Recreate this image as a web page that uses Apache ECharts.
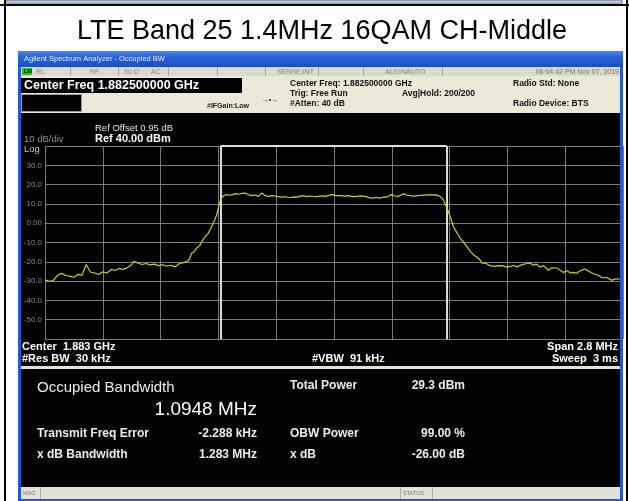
<!DOCTYPE html>
<html>
<head>
<meta charset="utf-8">
<title>LTE Band 25 1.4MHz 16QAM CH-Middle</title>
<script src="https://cdn.jsdelivr.net/npm/echarts@6/dist/echarts.min.js"></script>
<style>
  html, body { margin: 0; padding: 0; background: #fff; }
  #chart { width: 629px; height: 501px; }
</style>
</head>
<body>
<div id="chart"></div>
<script>
// trace: offset from centre freq (kHz) and level (dBm)
var freqKHz = [
  -1400, -1380, -1360, -1340, -1320, -1300, -1280, -1260, -1240, -1220, -1210, -1200, -1190, -1180,
  -1160, -1140, -1120, -1100, -1080, -1060, -1040, -1020, -1000, -980, -970, -950, -930, -910,
  -890, -870, -850, -830, -810, -790, -770, -750, -730, -710, -700, -690, -680, -665, -650, -640,
  -625, -610, -595, -580, -568, -557, -548, -535,
  -520, -505, -488, -475, -464, -450, -431, -415, -399, -385, -367, -350, -335, -318, -300, -286,
  -270, -253, -235, -213, -195, -181, -165, -149, -132, -116, -95, -76, -60, -44, -25, -11,
  10, 29, 50, 69, 90, 110, 130, 150, 165, 183, 205, 223, 240, 255, 268, 279, 295, 311, 325, 336,
  352, 368, 390, 408, 430, 449, 465, 481, 495, 505, 515, 522,
  529, 540, 554, 566, 578, 594, 610, 625, 643, 660, 675, 690, 707, 715, 723, 740, 755, 764, 780,
  795, 804, 820, 835, 853, 870, 885, 901, 915, 930, 949, 965, 980, 998, 1015, 1038, 1055, 1079,
  1095, 1111, 1130, 1145, 1159, 1175, 1190, 1216, 1235, 1256, 1275, 1290, 1304, 1320, 1345, 1360,
  1385, 1400
];
var levelDbm = [
  -29.4, -30.1, -29.8, -27.0, -26.0, -27.1, -27.4, -28.0, -26.5, -26.9, -24.0, -21.4, -23.5, -25.3,
  -25.8, -26.6, -25.2, -25.8, -24.0, -24.4, -23.5, -23.9, -23.0, -21.5, -19.8, -20.6, -21.4, -20.9,
  -21.6, -21.2, -22.0, -21.5, -22.3, -21.8, -22.6, -21.0, -20.4, -19.8, -18.6, -15.6, -15.0, -12.9, -11.5, -9.4,
  -7.0, -5.4, -2.2, 1.2, 4.4, 9.6, 12.6, 14.2,
  14.8, 14.5, 14.9, 15.3, 15.0, 15.4, 15.6, 14.9, 14.3, 14.6, 13.9, 15.6, 14.4, 13.9, 14.3, 14.1,
  13.8, 13.5, 13.7, 13.2, 13.6, 13.5, 14.0, 14.3, 13.8, 14.1, 13.7, 13.9, 14.2, 13.9, 14.4, 14.8,
  14.3, 14.3, 14.0, 14.3, 13.8, 13.9, 14.2, 13.9, 13.4, 13.0, 13.3, 13.0, 13.6, 13.5, 14.2, 14.8, 14.1, 13.9, 14.6, 15.2,
  14.6, 14.3, 14.0, 14.3, 14.6, 14.5, 14.8, 14.5, 14.7, 14.3, 13.8, 13.0,
  12.2, 9.5, 6.1, 2.5, -1.7, -4.6, -7.7, -9.4, -12.0, -14.6, -16.3, -17.4, -18.9, -20.6, -21.5, -21.0, -22.0, -21.5, -22.4,
  -22.0, -22.7, -22.1, -22.8, -22.4, -21.9, -22.6, -22.0, -21.3, -21.0, -20.6, -21.8, -21.2, -22.7, -22.0, -24.4, -23.1, -23.2,
  -24.2, -25.5, -24.6, -25.8, -25.5, -26.0, -24.8, -23.7, -24.9, -26.2, -26.7, -27.6, -28.4, -28.0, -29.6, -29.0,
  -28.8, -28.4
];
var obwEdgesKHz = [-549.7, 545.1];
var refLevel = 40;
var bottomLevel = -60;

// readouts
var statusRow = ['RL', 'RF', '50 Ω', 'AC', 'SENSE:INT', 'ALIGNAUTO'];
var headerLeft = ['Center Freq: 1.882500000 GHz', 'Trig: Free Run', '#Atten: 40 dB'];
var headerRight = ['Radio Std: None', '', 'Radio Device: BTS'];
var resultLabels = ['Transmit Freq Error', 'x dB Bandwidth'];
var resultValues = ['-2.288 kHz', '1.283 MHz'];
var resultLabels2 = ['OBW Power', 'x dB'];
var resultValues2 = ['99.00 %', '-26.00 dB'];

var FONT = '"Liberation Sans", Arial, sans-serif';
function txt(x, y, s, font, fill, align) {
  return { type: 'text', z: 50, silent: true,
    style: { x: x, y: y, text: s, font: font + ' ' + FONT, fill: fill,
             textAlign: align || 'left', textVerticalAlign: 'middle' } };
}
function box(x, y, w, h, fill, z, stroke) {
  return { type: 'rect', z: z, silent: true, shape: { x: x, y: y, width: w, height: h },
    style: { fill: fill, stroke: stroke || null, lineWidth: stroke ? 1 : 0 } };
}
function vline(x, y1, y2, color) {
  return { type: 'line', z: 20, silent: true, shape: { x1: x, y1: y1, x2: x, y2: y2 },
    style: { stroke: color, lineWidth: 1 } };
}

var els = [];
// page frame
els.push(box(6, 0, 616, 4, '#b8c3d4', -10, '#6b7a90'));
els.push(box(0, 4, 629, 2, '#000', -5));
els.push(box(4, 0, 2, 501, '#000', -5));
els.push(box(626, 0, 2, 501, '#000', -5));
els.push(txt(322, 32, 'LTE Band 25 1.4MHz 16QAM CH-Middle', '27px', '#000', 'center'));

// analyzer window
els.push({ type: 'rect', z: -10, silent: true, shape: { x: 18, y: 51, width: 605, height: 16 },
  style: { fill: new echarts.graphic.LinearGradient(0, 0, 0, 1, [
    { offset: 0, color: '#4a88f0' }, { offset: 0.35, color: '#2a64dc' }, { offset: 1, color: '#1a4ec4' }]) } });
els.push(txt(24, 59, 'Agilent Spectrum Analyzer - Occupied BW', '7.5px', '#e8eeff'));
els.push(box(18, 67, 605, 434, '#2458d8', -10));
els.push(box(21, 67, 599, 9, '#dcd9d0', -9));
els.push(box(21, 76, 599, 37, '#ece9d8', -9));
els.push(box(21, 113, 599, 254, '#000', -9));
els.push(box(21, 366, 599, 3, '#e6e2d2', -9));
els.push(box(21, 369, 599, 118, '#000', -9));
els.push(box(21, 487, 599, 12, '#e2e0da', -9));

// status row
els.push(box(22, 68, 10, 7, '#27c01f', -8));
els.push(txt(24, 72, 'LXI', 'bold 5px', '#000'));
[70, 118, 168, 217, 265, 318, 363, 442].forEach(function (x) { els.push(vline(x + 0.5, 67, 76, '#a8a59c')); });
var statusX = [36, 90, 124, 151, 277, 385];
statusRow.forEach(function (s, i) { els.push(txt(statusX[i], 72, s, '7px', '#8a8880')); });
els.push(txt(619, 72, '06:04:42 PM Nov 07, 2019', '7px', '#7a7870', 'right'));

// header
els.push(box(21, 78, 221, 15, '#000', -8));
els.push(txt(24, 86, 'Center Freq 1.882500000 GHz', 'bold 12.5px', '#fff'));
els.push(box(21.5, 94.5, 60, 17, '#000', -8, '#9a9a9a'));
els.push(txt(207, 106, '#IFGain:Low', 'bold 7px', '#222'));
els.push(txt(270, 100, '→•→', '7px', '#222', 'center'));
headerLeft.forEach(function (s, i) { els.push(txt(290, 84 + i * 10, s, 'bold 8.5px', '#111')); });
els.push(txt(402, 94, 'Avg|Hold: 200/200', 'bold 8.5px', '#111'));
headerRight.forEach(function (s, i) { els.push(txt(513, 84 + i * 10, s, 'bold 8.5px', '#111')); });

// display annotations
els.push(txt(95, 128, 'Ref Offset 0.95 dB', '9.5px', '#e6e6e6'));
els.push(txt(95, 139, 'Ref 40.00 dBm', 'bold 11px', '#ffffff'));
els.push(txt(24, 139, '10 dB/div', '9.5px', '#8c8c8c'));
els.push(txt(24, 149, 'Log', '9.5px', '#c8c8c8'));
els.push(txt(22, 347, 'Center  1.883 GHz', 'bold 11px', '#fff'));
els.push(txt(22, 359, '#Res BW  30 kHz', 'bold 11px', '#fff'));
els.push(txt(312, 359, '#VBW  91 kHz', 'bold 11px', '#fff'));
els.push(txt(618, 347, 'Span 2.8 MHz', 'bold 11px', '#fff', 'right'));
els.push(txt(618, 359, 'Sweep  3 ms', 'bold 11px', '#fff', 'right'));

// results panel
els.push(txt(37, 388, 'Occupied Bandwidth', '15px', '#ececec'));
els.push(txt(257, 410, '1.0948 MHz', '19px', '#ffffff', 'right'));
els.push(txt(290, 386, 'Total Power', 'bold 12px', '#ececec'));
els.push(txt(465, 386, '29.3 dBm', 'bold 12px', '#ececec', 'right'));
resultLabels.forEach(function (s, i) {
  var y = 434 + i * 21;
  els.push(txt(37, y, s, 'bold 12px', '#ececec'));
  els.push(txt(257, y, resultValues[i], 'bold 12px', '#ececec', 'right'));
  els.push(txt(290, y, resultLabels2[i], 'bold 12px', '#ececec'));
  els.push(txt(465, y, resultValues2[i], 'bold 12px', '#ececec', 'right'));
});

// message bar
els.push(vline(40.5, 487, 499, '#b0aea8'));
els.push(vline(400.5, 487, 499, '#b0aea8'));
els.push(vline(432.5, 487, 499, '#b0aea8'));
els.push(txt(23, 493, 'MSG', '5.5px', '#777'));
els.push(txt(403, 493, 'STATUS', '5.5px', '#777'));

// blue window edges over the grid
els.push(box(18, 67, 3, 434, '#2458d8', 60));
els.push(box(620, 67, 3, 434, '#2458d8', 60));

var trace = freqKHz.map(function (f, i) { return [f, levelDbm[i]]; });

var chart = echarts.init(document.getElementById('chart'));
chart.setOption({
  backgroundColor: '#ffffff',
  animation: false,
  grid: { left: 45, top: 146, right: 6, bottom: 162 },
  xAxis: {
    type: 'value', min: -1400, max: 1400, interval: 280,
    axisLine: { show: true, lineStyle: { color: '#7c7c7c', width: 1 } },
    axisTick: { show: false },
    axisLabel: { show: false },
    splitLine: { show: true, lineStyle: { color: '#7c7c7c', width: 1 } }
  },
  yAxis: {
    type: 'value', min: bottomLevel, max: refLevel, interval: 10,
    axisLine: { show: true, lineStyle: { color: '#7c7c7c', width: 1 } },
    axisTick: { show: false },
    axisLabel: {
      color: '#8a8a8a', fontSize: 8, fontFamily: FONT, margin: 3,
      formatter: function (v) {
        if (v === refLevel || v === bottomLevel) return '';
        if (v === 0) return '0.00';
        return v.toFixed(1);
      }
    },
    splitLine: { show: true, lineStyle: { color: '#7c7c7c', width: 1 } }
  },
  graphic: { elements: els },
  series: [{
    type: 'line',
    data: trace,
    showSymbol: false,
    lineStyle: { color: '#d2d200', width: 1.2 },
    z: 5,
    markLine: {
      silent: true, symbol: 'none', label: { show: false },
      lineStyle: { color: '#dcdcdc', width: 2, type: 'solid' },
      data: [
        { xAxis: obwEdgesKHz[0] },
        { xAxis: obwEdgesKHz[1] },
        [{ coord: [obwEdgesKHz[0], refLevel] }, { coord: [obwEdgesKHz[1], refLevel] }]
      ]
    }
  }]
});
</script>
</body>
</html>
